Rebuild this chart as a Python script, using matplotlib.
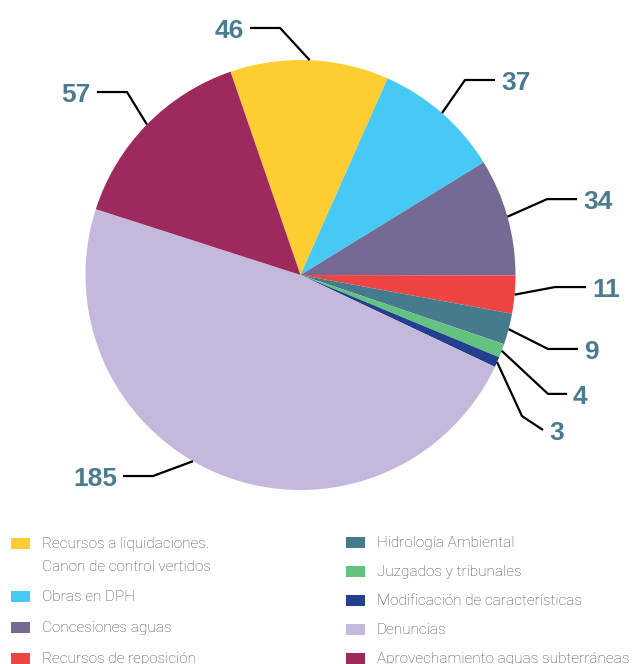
"""
Pie chart with leader labels and a two-column legend
"""

import matplotlib
matplotlib.use("Agg")
import matplotlib.pyplot as plt
from matplotlib.patches import Rectangle
import numpy as np

categories = [
    "Recursos a liquidaciones.\nCanon de control vertidos",
    "Obras en DPH",
    "Concesiones aguas",
    "Recursos de reposición",
    "Hidrología Ambiental",
    "Juzgados y tribunales",
    "Modificación de características",
    "Denuncias",
    "Aprovechamiento aguas subterráneas",
]
values = [46, 37, 34, 11, 9, 4, 3, 185, 57]
colors = ["#FECD32", "#46C9F5", "#756A94", "#EE4444", "#467A8D",
          "#63C27F", "#233F8F", "#C4B9DC", "#9C2A5C"]

# leader layout (pie radius = 1): elbow point, end point, optional anchor angle
leaders = [
    ((-0.095, 1.149), (-0.235, 1.149), None),
    ((0.765, 0.907), (0.905, 0.907), None),
    ((1.147, 0.353), (1.286, 0.353), None),
    ((1.184, -0.056), (1.328, -0.056), None),
    ((1.151, -0.344), (1.291, -0.344), None),
    ((1.151, -0.553), (1.240, -0.553), None),
    ((1.030, -0.656), (1.128, -0.721), None),
    ((-0.686, -0.935), (-0.826, -0.935), -120),
    ((-0.807, 0.851), (-0.947, 0.851), None),
]

W, H = 633, 664
fig = plt.figure(figsize=(W / 100, H / 100), dpi=100, facecolor="white")
ax = fig.add_axes([0, 0, 1, 1])

cx, cy, r = 300.5, 275, 215
wedges, _ = ax.pie(values, colors=colors, startangle=109, counterclock=False,
                   radius=1, center=(0, 0), frame=True,
                   wedgeprops=dict(linewidth=0))
ax.set_axis_off()
ax.set_xlim(-cx / r, (W - cx) / r)
ax.set_ylim((cy - H) / r, cy / r)

label_color = "#4B7B91"
for w, val, (elbow, end, ang) in zip(wedges, values, leaders):
    if ang is None:
        ang = (w.theta1 + w.theta2) / 2
    a = np.deg2rad(ang)
    sx, sy = np.cos(a), np.sin(a)
    ax.plot([sx, elbow[0], end[0]], [sy, elbow[1], end[1]],
            color="black", lw=1.6, solid_capstyle="butt", zorder=3)
    ha = "left" if end[0] > 0 else "right"
    off = 0.028 if ha == "left" else -0.028
    ax.text(end[0] + off, end[1] - 0.045, str(val), ha=ha, va="baseline",
            fontsize=19, fontweight="bold", color=label_color,
            family="Liberation Sans")


# legend, drawn in pixel positions (last row is clipped by the edge, as in the source)
def px(x, y):
    return x / W, 1 - y / H


legend_rows = [
    (11, 543), (11, 596), (11, 627), (11, 658),
    (346, 542), (346, 571), (346, 600), (346, 629), (346, 658),
]
for (x, y), lab, col in zip(legend_rows, categories, colors):
    x0, y0 = px(x, y + 5.5)
    fig.add_artist(Rectangle((x0, y0), 19 / W, 11 / H, color=col,
                             transform=fig.transFigure, lw=0))
    for i, line in enumerate(lab.split("\n")):
        tx, ty = px(x + 31, y + 5 + i * 23)
        fig.text(tx, ty, line, ha="left", va="baseline", fontsize=11.1,
                 color="#484848", family="Roboto", fontweight="light")

fig.savefig("out.png", dpi=100, facecolor="white")
plt.close(fig)
